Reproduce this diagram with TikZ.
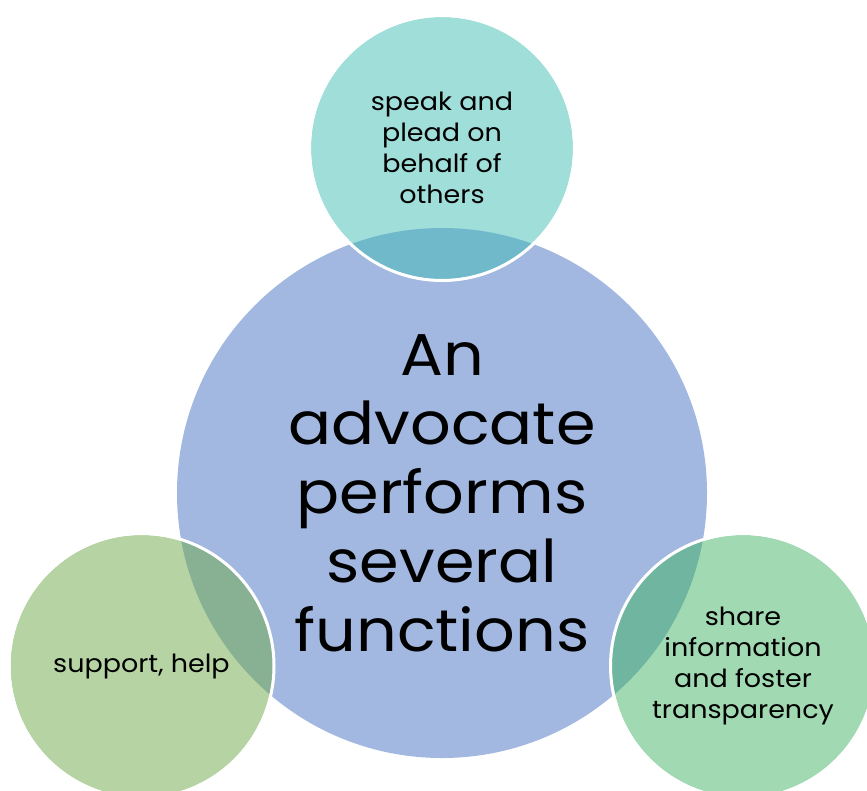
\documentclass[tikz,border=0pt]{standalone}
\usepackage{fontspec}
\setmainfont{Poppins}[FakeStretch=1.08]
\definecolor{bigc}{HTML}{A2B8E0}
\definecolor{topc}{HTML}{A0DEDA}
\definecolor{topov}{HTML}{70B9CA}
\definecolor{leftc}{HTML}{B6D4A3}
\definecolor{leftov}{HTML}{88B093}
\definecolor{rightc}{HTML}{A0D9B2}
\definecolor{rightov}{HTML}{6FB5A0}
\begin{document}
\begin{tikzpicture}[x=1pt,y=-1pt,
  bigtxt/.style={align=center,font=\fontsize{59}{69}\selectfont,text=black},
  smalltxt/.style={align=center,font=\fontsize{25}{31}\selectfont,text=black}]
\useasboundingbox (0,0) rectangle (867,790);
\clip (0,0) rectangle (867,790);
% big circle
\fill[bigc] (442,493) circle (265);
% small circles
\foreach \cx/\cy/\fc/\oc in {442/148/topc/topov, 141.5/666/leftc/leftov, 743/666/rightc/rightov}{
  \fill[\fc] (\cx,\cy) circle (131);
  \begin{scope}
    \clip (442,493) circle (265);
    \fill[\oc] (\cx,\cy) circle (131);
  \end{scope}
  \draw[white,line width=3] (\cx,\cy) circle (132.5);
}
\node[bigtxt] (center) at (442,493) {An\\advocate\\performs\\several\\functions};
\node[smalltxt] (top) at (442,148) {speak and\\plead on\\behalf of\\others};
\node[smalltxt] (left) at (141.5,666) {support, help};
\node[smalltxt] (right) at (743,666) {share\\information\\and foster\\transparency};
\end{tikzpicture}
\end{document}
